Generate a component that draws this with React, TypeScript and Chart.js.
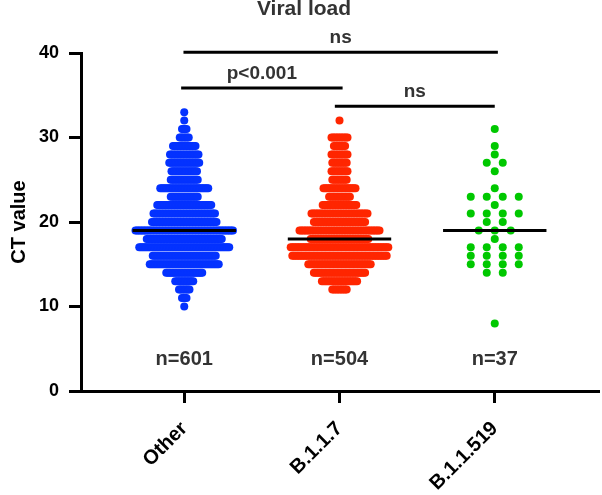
import { useEffect, useRef } from 'react';
import { Chart, registerables } from 'chart.js';

Chart.register(...registerables);

// ---------- data ----------
const chartTitle = 'Viral load';
const yAxisTitle = 'CT value';
const categories = ['Other', 'B.1.1.7', 'B.1.1.519'];
const sampleSizeLabels = ['n=601', 'n=504', 'n=37'];
const yTickValues = [0, 10, 20, 30, 40];
const ctValues = [33, 32, 31, 30, 29, 28, 27, 26, 25, 24, 23, 22, 21, 20, 19, 18, 17, 16, 15, 14, 13, 12, 11, 10, 9, 8];
const otherCounts = [1, 1, 4, 7, 16, 20, 21, 18, 19, 33, 19, 37, 42, 44, 66, 51, 61, 43, 47, 25, 13, 8, 4, 1, 0, 0];
const b117Counts = [0, 1, 0, 11, 8, 11, 10, 11, 10, 21, 14, 22, 36, 33, 51, 37, 62, 60, 40, 33, 23, 10, 0, 0, 0, 0];
const b11519Counts = [0, 0, 1, 0, 1, 1, 2, 1, 0, 1, 4, 1, 4, 2, 3, 1, 4, 4, 4, 2, 0, 0, 0, 0, 0, 1];
const comparisonGroups = [[0, 2], [0, 1], [1, 2]];
const comparisonLabels = ['ns', 'p<0.001', 'ns'];

// ---------- layout / style ----------
const FONT = '"Liberation Sans", Arial, Helvetica, sans-serif';
const LAYOUT = { width: 602, height: 495, left: 81, right: 598, top: 53, bottom: 391, xMin: 0.335, xMax: 3.665 };
const swarmSpacingPx = [1.5, 1.6, 16];
const dotColors = ['#0432FF', '#FF2600', '#00C800'];
const medianHalfWidth = 0.333;
const bracketLevels = [40.1, 35.85, 33.7];
const bracketExtend = [[-0.005, 0.02], [-0.02, 0.02], [-0.03, 0]];
const nLabelLevel = 3.7;
const TEXT_GRAY = '#333333';

const groupCounts = [otherCounts, b117Counts, b11519Counts];

function swarm(counts: number[], g: number) {
  const pxPerUnit = (LAYOUT.right - LAYOUT.left) / (LAYOUT.xMax - LAYOUT.xMin);
  const s = swarmSpacingPx[g] / pxPerUnit;
  const pts: { x: number; y: number }[] = [];
  counts.forEach((n, i) => {
    for (let k = 0; k < n; k++) pts.push({ x: g + 1 + (k - (n - 1) / 2) * s, y: ctValues[i] });
  });
  return pts;
}

function median(counts: number[]) {
  const vals: number[] = [];
  counts.forEach((n, i) => {
    for (let k = 0; k < n; k++) vals.push(ctValues[i]);
  });
  vals.sort((a, b) => a - b);
  const m = vals.length;
  return m % 2 ? vals[(m - 1) / 2] : (vals[m / 2 - 1] + vals[m / 2]) / 2;
}

const annotationPlugin = {
  id: 'annotations',
  afterDraw(chart: any) {
    const { ctx, scales } = chart;
    const x = scales.x;
    const y = scales.y;
    ctx.save();
    // title
    ctx.fillStyle = TEXT_GRAY;
    ctx.font = `bold 21px ${FONT}`;
    ctx.textAlign = 'center';
    ctx.textBaseline = 'middle';
    ctx.fillText(chartTitle, LAYOUT.width / 2 + 3, 9);
    // brackets
    comparisonGroups.forEach(([a, b], i) => {
      const py = y.getPixelForValue(bracketLevels[i]);
      const x1 = x.getPixelForValue(a + 1 + bracketExtend[i][0]);
      const x2 = x.getPixelForValue(b + 1 + bracketExtend[i][1]);
      ctx.strokeStyle = '#000';
      ctx.lineWidth = 3;
      ctx.beginPath();
      ctx.moveTo(x1, py);
      ctx.lineTo(x2, py);
      ctx.stroke();
      ctx.fillStyle = TEXT_GRAY;
      ctx.font = `bold 19px ${FONT}`;
      ctx.fillText(comparisonLabels[i], (x1 + x2) / 2, py - 14.5);
    });
    // sample sizes
    sampleSizeLabels.forEach((t, g) => {
      ctx.fillStyle = TEXT_GRAY;
      ctx.font = `bold 20px ${FONT}`;
      ctx.fillText(t, x.getPixelForValue(g + 1), y.getPixelForValue(nLabelLevel));
    });
    ctx.restore();
  },
};

export default function App() {
  const ref = useRef<HTMLCanvasElement>(null);
  useEffect(() => {
    document.body.style.margin = '0';
    const dotSets = groupCounts.map((c, g) => ({
      type: 'scatter' as const,
      label: categories[g],
      data: swarm(c, g),
      pointRadius: 4,
      pointHoverRadius: 4,
      pointBackgroundColor: dotColors[g],
      pointBorderColor: dotColors[g],
      pointBorderWidth: 0,
      showLine: false,
      order: 1,
    }));
    const medianSets = groupCounts.map((c, g) => {
      const m = median(c);
      return {
        type: 'scatter' as const,
        label: `median ${categories[g]}`,
        data: [
          { x: g + 1 - medianHalfWidth, y: m },
          { x: g + 1 + medianHalfWidth, y: m },
        ],
        showLine: true,
        borderColor: '#000',
        borderWidth: 3,
        pointRadius: 0,
        order: 0,
      };
    });
    const chart = new Chart(ref.current!, {
      type: 'scatter',
      data: { datasets: [...medianSets, ...dotSets] as any },
      options: {
        animation: false,
        responsive: false,
        devicePixelRatio: 1,
        layout: { padding: { top: LAYOUT.top, right: LAYOUT.width - LAYOUT.right, left: 0, bottom: 0 } },
        plugins: { legend: { display: false }, tooltip: { enabled: false }, title: { display: false } },
        scales: {
          x: {
            type: 'linear',
            min: LAYOUT.xMin,
            max: LAYOUT.xMax,
            afterFit: (s: any) => {
              s.height = LAYOUT.height - LAYOUT.bottom;
            },
            afterBuildTicks: (s: any) => {
              s.ticks = categories.map((_, i) => ({ value: i + 1 }));
            },
            ticks: {
              autoSkip: false,
              minRotation: 45,
              maxRotation: 45,
              padding: 14,
              color: '#000',
              font: { family: FONT, size: 20, weight: 'bold' },
              callback: (v: any) => categories[Math.round(Number(v)) - 1] ?? '',
            },
            grid: { display: true, drawOnChartArea: false, drawTicks: true, tickLength: 12, tickWidth: 3, tickColor: '#000', lineWidth: 3, color: '#000' },
            border: { display: true, color: '#000', width: 3 },
          },
          y: {
            type: 'linear',
            min: 0,
            max: 40,
            afterFit: (s: any) => {
              s.width = LAYOUT.left;
            },
            afterBuildTicks: (s: any) => {
              s.ticks = yTickValues.map((v) => ({ value: v }));
            },
            ticks: {
              padding: 10,
              color: '#000',
              font: { family: FONT, size: 18, weight: 'bold' },
            },
            title: {
              display: true,
              text: yAxisTitle,
              color: '#000',
              font: { family: FONT, size: 20, weight: 'bold' },
              padding: { top: 7, bottom: 0 },
            },
            grid: { display: true, drawOnChartArea: false, drawTicks: true, tickLength: 12, tickWidth: 3, tickColor: '#000', lineWidth: 3, color: '#000' },
            border: { display: true, color: '#000', width: 3 },
          },
        },
      },
      plugins: [annotationPlugin],
    } as any);
    return () => chart.destroy();
  }, []);
  return (
    <div style={{ width: LAYOUT.width, height: LAYOUT.height }}>
      <canvas ref={ref} width={LAYOUT.width} height={LAYOUT.height} style={{ display: 'block' }} />
    </div>
  );
}
